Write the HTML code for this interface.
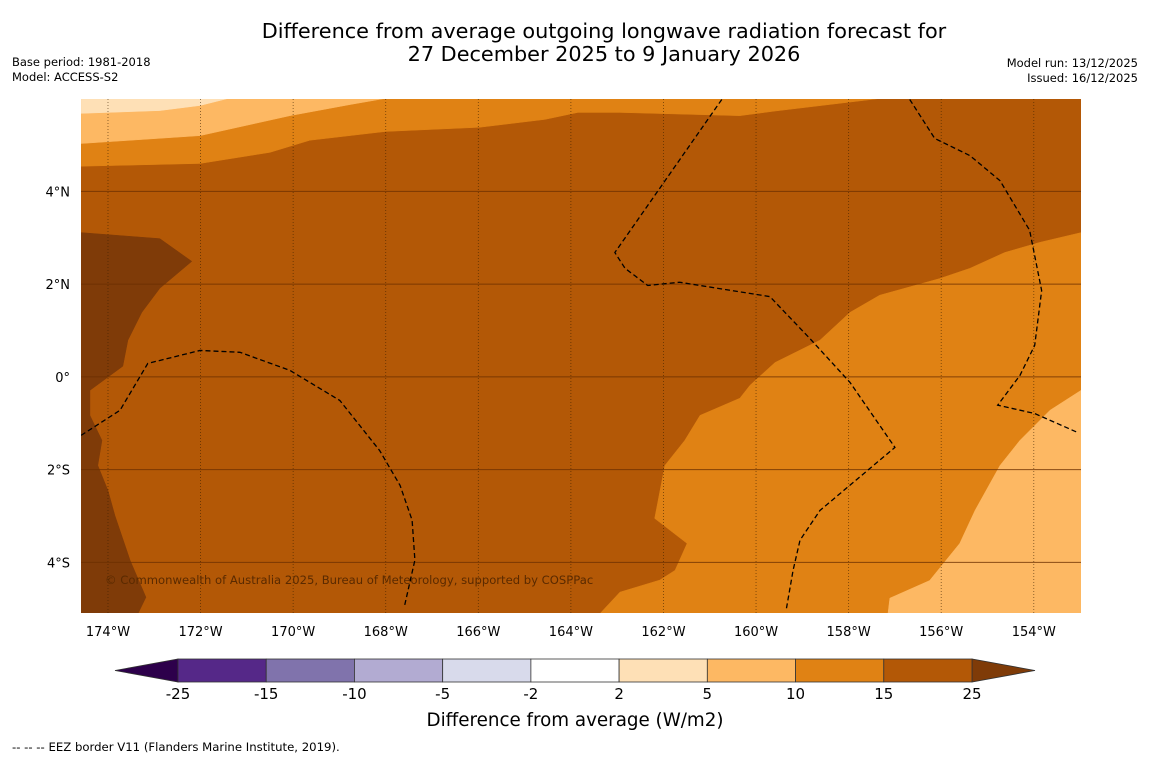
<!DOCTYPE html>
<html><head><meta charset="utf-8"><style>
body{margin:0;background:#fff;width:1150px;height:758px;overflow:hidden;font-family:"DejaVu Sans","Liberation Sans",sans-serif}
</style></head><body>
<svg id="chart" width="1150" height="758" viewBox="0 0 1150 758" font-family="DejaVu Sans, Liberation Sans, sans-serif">
<text x="604" y="38" text-anchor="middle" font-size="20.8">Difference from average outgoing longwave radiation forecast for</text>
<text x="604" y="61" text-anchor="middle" font-size="20.8">27 December 2025 to 9 January 2026</text>
<text x="12" y="66" font-size="11.5">Base period: 1981-2018</text>
<text x="12" y="81" font-size="11.5">Model: ACCESS-S2</text>
<text x="1138" y="67" text-anchor="end" font-size="11.5">Model run: 13/12/2025</text>
<text x="1138" y="82" text-anchor="end" font-size="11.5">Issued: 16/12/2025</text>
<g id="map"></g>
<g id="axes"></g>
<g id="cbar"></g>
<text x="575" y="726" text-anchor="middle" font-size="18.3">Difference from average (W/m2)</text>
<text x="12" y="751" font-size="11.7">--  --  -- EEZ border V11 (Flanders Marine Institute, 2019).</text>
</svg>
<script>
const lonTicks=[-174,-172,-170,-168,-166,-164,-162,-160,-158,-156,-154];
const latTicks=[4,2,0,-2,-4];
const lonTickLabels=["174°W","172°W","170°W","168°W","166°W","164°W","162°W","160°W","158°W","156°W","154°W"];
const latTickLabels=["4°N","2°N","0°","2°S","4°S"];
const bgLevel="15-25";
const topBand10=[[-174.58,6],[-174.58,4.54],[-172.01,4.60],[-170.5,4.84],[-169.64,5.10],[-168.0,5.29],[-165.97,5.38],[-164.56,5.55],[-163.85,5.70],[-162.94,5.70],[-160.35,5.63],[-159.59,5.73],[-157.33,6]];
const topBand5=[[-174.58,6],[-174.58,5.03],[-172.01,5.20],[-170.07,5.63],[-168.77,5.87],[-168.02,6]];
const topBand2=[[-174.58,6],[-174.58,5.68],[-172.88,5.74],[-172.01,5.85],[-171.41,6]];
const darkWest=[[-174.58,3.11],[-172.88,2.98],[-172.19,2.49],[-172.88,1.91],[-173.27,1.39],[-173.57,0.79],[-173.68,0.23],[-174.39,-0.29],[-174.39,-0.83],[-174.13,-1.37],[-174.22,-1.91],[-174.0,-2.45],[-173.85,-2.99],[-173.52,-3.96],[-173.18,-4.75],[-173.35,-5.1],[-174.58,-5.1]];
const seBand10=[[-163.37,-5.1],[-162.94,-4.64],[-162.08,-4.38],[-161.75,-4.17],[-161.49,-3.59],[-162.19,-3.05],[-161.97,-1.91],[-161.54,-1.37],[-161.21,-0.83],[-160.35,-0.46],[-160.13,-0.18],[-159.59,0.31],[-158.62,0.79],[-157.97,1.39],[-157.33,1.76],[-156.03,2.12],[-155.38,2.34],[-154.63,2.68],[-153.87,2.90],[-152.98,3.11],[-152.98,-5.1]];
const seBand5=[[-157.15,-5.1],[-157.11,-4.77],[-156.25,-4.39],[-155.6,-3.59],[-155.27,-2.88],[-154.73,-1.91],[-154.3,-1.37],[-153.65,-0.72],[-152.98,-0.29],[-152.98,-5.1]];
const eez1=[[-174.58,-1.26],[-173.74,-0.72],[-173.14,0.29],[-172.01,0.57],[-171.15,0.53],[-170.07,0.14],[-168.99,-0.51],[-168.13,-1.59],[-167.69,-2.34],[-167.43,-3.09],[-167.37,-3.95],[-167.59,-4.92]];
const eez2=[[-160.74,5.98],[-163.05,2.68],[-162.83,2.34],[-162.34,1.97],[-161.65,2.04],[-159.70,1.73],[-158.84,0.83],[-157.97,-0.12],[-157.0,-1.52],[-158.62,-2.88],[-159.05,-3.52],[-159.2,-4.17],[-159.35,-5.03]];
const eez3=[[-156.68,5.98],[-156.14,5.14],[-155.38,4.77],[-154.73,4.23],[-154.09,3.16],[-153.83,1.86],[-153.98,0.68],[-154.30,0.03],[-154.78,-0.61],[-153.98,-0.79],[-153.05,-1.20]];
const cbLevels=["-25","-15","-10","-5","-2","2","5","10","15","25"];
const cbColors=["#552888","#8073ac","#b2abd2","#d8daeb","#ffffff","#fee0b6","#fdb863","#e08214","#b35806"];
const levelColors={"2-5":"#fee0b6","5-10":"#fdb863","10-15":"#e08214","15-25":"#b35806",">25":"#7f3b08"};

const X0=81,X1=1081,Y0=99,Y1=613;
const lonMin=-174.583,lonMax=-152.98,latMax=5.99,latMin=-5.09;
const xs=lon=>X0+(lon-lonMin)/(lonMax-lonMin)*(X1-X0);
const ys=lat=>Y0+(latMax-lat)/(latMax-latMin)*(Y1-Y0);
const NS="http://www.w3.org/2000/svg";
const map=document.getElementById('map'),axes=document.getElementById('axes'),cbar=document.getElementById('cbar');
function mk(tag,attrs,parent){const e=document.createElementNS(NS,tag);for(const k in attrs)e.setAttribute(k,attrs[k]);parent.appendChild(e);return e;}
const clip=mk('clipPath',{id:'mc'},map);mk('rect',{x:X0,y:Y0,width:X1-X0,height:Y1-Y0},clip);
const g=mk('g',{'clip-path':'url(#mc)'},map);
const bg=mk('rect',{x:X0,y:Y0,width:X1-X0,height:Y1-Y0,fill:levelColors[bgLevel]},g);


function poly(pts,lvl,name){const p=mk('polygon',{points:pts.map(q=>xs(q[0])+','+ys(q[1])).join(' '),fill:levelColors[lvl],stroke:levelColors[lvl],'stroke-width':0.5},g);

}
poly(topBand10,"10-15","region-north-10-to-15");
poly(topBand5,"5-10","region-north-5-to-10");
poly(topBand2,"2-5","region-north-2-to-5");
poly(seBand10,"10-15","region-southeast-10-to-15");
poly(seBand5,"5-10","region-southeast-5-to-10");
poly(darkWest,">25","region-west-above-25");
lonTicks.forEach((lon,i)=>{
 const l=mk('line',{x1:xs(lon),x2:xs(lon),y1:Y0,y2:Y1,stroke:'#3a2000','stroke-width':0.8,'stroke-dasharray':'1,2','stroke-opacity':0.7},g);
 
 
 const t=mk('text',{x:xs(lon),y:636,'text-anchor':'middle','font-size':13},axes);t.textContent=lonTickLabels[i];
 
 
});
latTicks.forEach((lat,i)=>{
 const l=mk('line',{x1:X0,x2:X1,y1:ys(lat),y2:ys(lat),stroke:'#6b3000','stroke-width':1,'stroke-opacity':0.8},g);
 
 
 const t=mk('text',{x:70,y:ys(lat)+5,'text-anchor':'end','font-size':13},axes);t.textContent=latTickLabels[i];
 
 
});
[eez1,eez2,eez3].forEach(pts=>{
 const p=mk('polyline',{points:pts.map(q=>xs(q[0])+','+ys(q[1])).join(' '),fill:'none',stroke:'#000','stroke-width':1.3,'stroke-dasharray':'5,3'},g);
 
 
});
const cr=mk('text',{x:105,y:584,'font-size':11.6,fill:'#5a2a00'},g);cr.textContent="© Commonwealth of Australia 2025, Bureau of Meteorology, supported by COSPPac";


const cbX0=178,cbX1=972,cbY=659,cbH=23,n=cbColors.length,w=(cbX1-cbX0)/n;
const lt=mk('polygon',{points:`${cbX0},${cbY} ${cbX0},${cbY+cbH} 115,${cbY+cbH/2}`,fill:'#2d004b',stroke:'#333','stroke-width':0.8},cbar);


const rt=mk('polygon',{points:`${cbX1},${cbY} ${cbX1},${cbY+cbH} 1035,${cbY+cbH/2}`,fill:'#7f3b08',stroke:'#333','stroke-width':0.8},cbar);


cbColors.forEach((c,i)=>{const r=mk('rect',{x:cbX0+i*w,y:cbY,width:w,height:cbH,fill:c,stroke:'#333','stroke-width':0.8},cbar);
 
 });
cbLevels.forEach((s,i)=>{const t=mk('text',{x:cbX0+i*w,y:699,'text-anchor':'middle','font-size':15},cbar);t.textContent=s;
 
 });
</script>
</body></html>
